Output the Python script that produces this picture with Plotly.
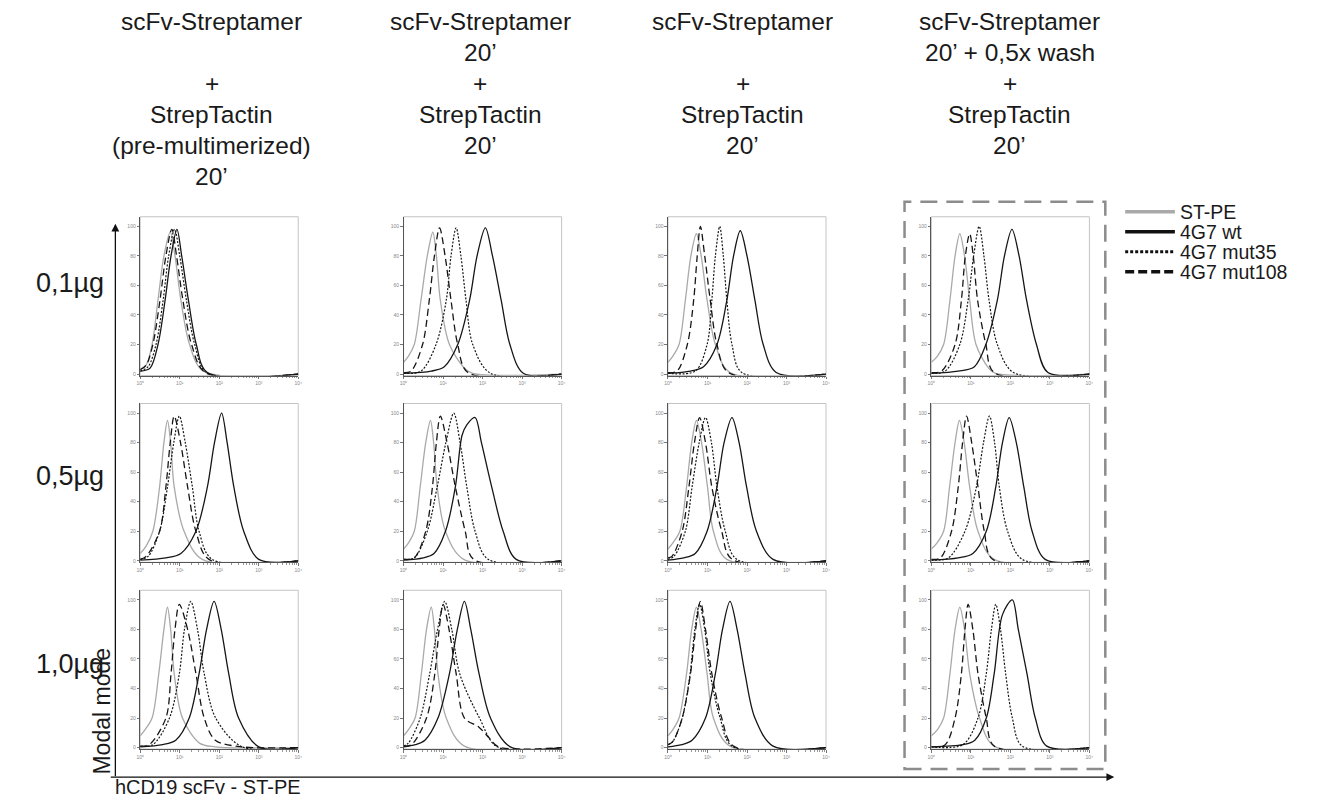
import math
import plotly.graph_objects as go

# page body has an 8px margin; figure drawn in the remaining area
OFF = 8
W, H = 1322 - OFF, 798 - OFF


def px(x):
    return (x - OFF) / W


def py(y):
    return 1 - (y - OFF) / H


# ---------------- data ----------------
SERIES = ["ST-PE", "4G7 wt", "4G7 mut35", "4G7 mut108"]
ROW_LABELS = ["0,1µg", "0,5µg", "1,0µg"]
COL_TITLES = [
    ["scFv-Streptamer", "", "+", "StrepTactin", "(pre-multimerized)", "20’"],
    ["scFv-Streptamer", "20’", "+", "StrepTactin", "20’"],
    ["scFv-Streptamer", "", "+", "StrepTactin", "20’"],
    ["scFv-Streptamer", "20’ + 0,5x wash", "+", "StrepTactin", "20’"],
]
X_TICKS = [0, 1, 2, 3, 4]
X_TICK_TEXT = ["10⁰", "10¹", "10²", "10³", "10⁴"]
Y_TICKS = [0, 20, 40, 60, 80, 100]
X_AXIS_TITLE = "hCD19 scFv - ST-PE"
Y_AXIS_TITLE = "Modal mode"

# Each curve: [log10(fluorescence), % of mode] knots.
# Order: row 0 col 0..3, row 1 col 0..3, row 2 col 0..3
ST_PE = [
    [[0,3],[0.15,6],[0.3,20],[0.45,50],[0.6,80],[0.76,96],[0.88,80],[1.03,50],[1.25,20],[1.6,2],[4,0]],
    [[0,8],[0.12,12],[0.27,20],[0.44,50],[0.6,80],[0.74,96],[0.83,80],[0.93,50],[1.16,20],[1.54,4],[1.75,0.5],[4,0]],
    [[0,8],[0.12,12],[0.28,20],[0.44,50],[0.58,80],[0.72,95],[0.84,80],[0.99,50],[1.2,20],[1.57,1],[4,0]],
    [[0,8],[0.15,12],[0.31,20],[0.47,50],[0.6,80],[0.72,95],[0.84,80],[0.97,50],[1.13,20],[1.45,4],[1.62,0.5],[4,0]],
    [[0,5],[0.15,10],[0.32,20],[0.49,50],[0.6,80],[0.69,95],[0.77,80],[0.86,50],[1.11,20],[1.57,1],[4,0]],
    [[0,8],[0.12,12],[0.27,20],[0.42,50],[0.56,80],[0.68,95],[0.76,80],[0.85,50],[1.06,20],[1.52,1],[4,0]],
    [[0,8],[0.12,12],[0.3,20],[0.47,50],[0.6,80],[0.72,95],[0.85,80],[1.0,50],[1.15,20],[1.49,1],[4,0]],
    [[0,8],[0.14,12],[0.31,20],[0.46,50],[0.6,80],[0.71,95],[0.83,80],[0.97,50],[1.18,20],[1.59,1],[4,0]],
    [[0,8],[0.12,12],[0.3,20],[0.47,50],[0.6,80],[0.69,95],[0.77,80],[0.86,50],[1.07,20],[1.5,3],[1.9,0.5],[4,0]],
    [[0,8],[0.12,12],[0.29,20],[0.45,50],[0.58,80],[0.7,95],[0.78,80],[0.87,50],[1.08,20],[1.54,1],[4,0]],
    [[0,8],[0.12,12],[0.28,20],[0.47,50],[0.6,80],[0.72,95],[0.84,80],[0.99,50],[1.15,20],[1.57,1],[4,0]],
    [[0,8],[0.15,12],[0.31,20],[0.47,50],[0.6,80],[0.72,95],[0.84,80],[0.97,50],[1.22,20],[1.59,1],[4,0]],
]
WT = [
    [[0,2],[0.25,4],[0.45,20],[0.63,50],[0.78,80],[0.93,98],[1.05,80],[1.22,50],[1.42,20],[1.7,1],[4,0]],
    [[0,0.5],[0.7,2],[1.03,5],[1.37,20],[1.67,50],[1.86,80],[2.07,99],[2.25,80],[2.47,50],[2.69,20],[3.03,0.5],[4,0]],
    [[0,0.5],[0.57,2],[0.9,5],[1.24,20],[1.49,50],[1.66,80],[1.83,97],[2.0,80],[2.2,50],[2.41,20],[2.74,1],[4,0]],
    [[0,0.5],[0.68,2],[1.09,5],[1.38,20],[1.67,50],[1.85,80],[2.04,98],[2.22,80],[2.41,50],[2.66,20],[2.95,1],[4,0]],
    [[0,0.5],[0.65,2],[1.03,5],[1.41,20],[1.7,50],[1.88,80],[2.06,100],[2.2,80],[2.37,50],[2.62,20],[3.0,1],[4,0]],
    [[0,0.5],[0.5,2],[0.77,5],[1.06,20],[1.31,50],[1.48,85],[1.6,92],[1.81,97],[1.97,80],[2.23,50],[2.52,20],[2.85,1],[4,0]],
    [[0,0.5],[0.4,2],[0.69,5],[0.99,20],[1.24,50],[1.42,80],[1.62,97],[1.8,80],[1.99,50],[2.24,20],[2.66,1],[4,0]],
    [[0,0.5],[0.68,2],[1.05,5],[1.39,20],[1.63,50],[1.8,80],[1.97,97],[2.15,80],[2.34,50],[2.55,20],[2.88,1],[4,0]],
    [[0,0.5],[0.57,2],[0.9,5],[1.24,20],[1.49,50],[1.68,80],[1.87,99],[2.05,80],[2.24,50],[2.49,20],[3.0,0.5],[4,0]],
    [[0,0.5],[0.3,2],[0.54,5],[0.87,20],[1.16,50],[1.36,80],[1.54,99],[1.7,80],[1.91,50],[2.2,20],[2.7,0.5],[4,0]],
    [[0,0.5],[0.35,2],[0.61,5],[0.95,20],[1.2,50],[1.38,80],[1.57,99],[1.75,80],[1.95,50],[2.2,20],[2.66,1],[4,0]],
    [[0,0.5],[0.8,2],[1.1,5],[1.39,20],[1.59,50],[1.8,90],[2.05,100],[2.2,80],[2.42,50],[2.63,20],[2.92,1],[4,0]],
]
MUT35 = [
    [[0,2],[0.2,5],[0.4,20],[0.58,50],[0.72,80],[0.87,98],[1.0,80],[1.17,50],[1.38,20],[1.68,1],[4,0]],
    [[0,0.5],[0.44,2],[0.82,20],[1.08,50],[1.2,80],[1.33,99],[1.45,80],[1.58,50],[1.75,20],[2.2,0.5],[4,0]],
    [[0,0.5],[0.69,2],[0.99,20],[1.11,50],[1.2,80],[1.31,100],[1.4,80],[1.49,50],[1.62,20],[1.87,1],[4,0]],
    [[0,0.5],[0.35,2],[0.72,20],[0.93,50],[1.07,80],[1.21,100],[1.33,80],[1.46,50],[1.67,20],[2.08,1],[4,0]],
    [[0,1],[0.2,3],[0.49,20],[0.69,50],[0.85,80],[0.99,98],[1.14,80],[1.32,50],[1.49,20],[1.82,1],[4,0]],
    [[0,1],[0.27,2],[0.6,20],[0.85,50],[1.07,80],[1.27,100],[1.43,80],[1.6,50],[1.81,20],[2.14,1],[4,0]],
    [[0,1],[0.15,3],[0.44,20],[0.61,50],[0.79,80],[0.95,97],[1.1,80],[1.24,50],[1.45,20],[1.74,1],[4,0]],
    [[0,0.5],[0.43,2],[0.85,20],[1.14,50],[1.32,80],[1.47,98],[1.6,80],[1.72,50],[1.93,20],[2.3,1],[4,0]],
    [[0,1],[0.32,2],[0.74,20],[0.99,50],[1.12,80],[1.28,99],[1.45,80],[1.62,50],[1.91,20],[2.58,0.5],[4,0]],
    [[0,1],[0.12,3],[0.42,20],[0.66,50],[0.86,80],[1.04,99],[1.22,80],[1.42,50],[1.92,20],[2.37,0.5],[4,0]],
    [[0,2],[0.12,4],[0.36,20],[0.56,50],[0.68,80],[0.8,97],[0.93,80],[1.07,50],[1.32,20],[1.62,1],[4,0]],
    [[0,0.5],[0.8,2],[1.18,20],[1.39,50],[1.52,80],[1.63,97],[1.75,80],[1.88,50],[2.05,20],[2.3,1],[4,0]],
]
MUT108 = [
    [[0,3],[0.15,6],[0.32,20],[0.5,50],[0.65,80],[0.8,98],[0.92,80],[1.08,50],[1.3,20],[1.65,1],[4,0]],
    [[0,1],[0.19,2],[0.48,20],[0.65,50],[0.78,80],[0.91,99],[1.05,80],[1.2,50],[1.37,20],[1.63,1],[4,0]],
    [[0,1],[0.23,2],[0.49,20],[0.65,50],[0.74,80],[0.82,100],[0.93,80],[1.07,50],[1.24,20],[1.53,1],[4,0]],
    [[0,1],[0.26,2],[0.6,20],[0.76,50],[0.86,80],[0.97,95],[1.06,80],[1.17,50],[1.38,20],[1.59,1],[4,0]],
    [[0,1],[0.15,3],[0.49,20],[0.65,50],[0.76,80],[0.86,98],[1.02,80],[1.2,50],[1.41,20],[1.74,1],[4,0]],
    [[0,1],[0.27,2],[0.56,20],[0.73,50],[0.83,80],[0.93,98],[1.1,80],[1.31,50],[1.56,20],[1.77,1],[4,0]],
    [[0,2],[0.1,3],[0.36,20],[0.53,50],[0.67,80],[0.8,97],[0.95,80],[1.11,50],[1.36,20],[1.62,1],[4,0]],
    [[0,1],[0.23,2],[0.51,20],[0.68,50],[0.79,80],[0.89,98],[1.02,80],[1.18,50],[1.34,20],[1.55,1],[4,0]],
    [[0,1],[0.23,2],[0.65,20],[0.78,50],[0.88,80],[0.99,97],[1.2,80],[1.41,50],[1.62,20],[1.9,5],[2.58,0.5],[4,0]],
    [[0,1],[0.2,2],[0.58,20],[0.79,50],[0.9,80],[1.0,97],[1.15,80],[1.33,50],[1.54,20],[1.9,14],[2.15,7],[2.4,0.5],[4,0]],
    [[0,2],[0.12,4],[0.36,20],[0.57,50],[0.7,80],[0.82,99],[0.95,80],[1.11,50],[1.36,20],[1.66,1],[4,0]],
    [[0,0.5],[0.35,2],[0.6,20],[0.76,50],[0.85,80],[0.93,97],[1.05,80],[1.18,50],[1.39,20],[1.59,1],[4,0]],
]
CURVES = {"ST-PE": ST_PE, "4G7 wt": WT, "4G7 mut35": MUT35, "4G7 mut108": MUT108}

# ---------------- styles ----------------
STYLE = {
    "ST-PE": dict(color="#a9a9a9", width=1.3, dash="solid"),
    "4G7 wt": dict(color="#161616", width=1.3, dash="solid"),
    "4G7 mut35": dict(color="#161616", width=1.2, dash="2px,1.6px"),
    "4G7 mut108": dict(color="#161616", width=1.3, dash="7px,4px"),
}
LEG_STYLE = {
    "ST-PE": dict(color="#a9a9a9", width=3.5, dash="solid"),
    "4G7 wt": dict(color="#111111", width=3.5, dash="solid"),
    "4G7 mut35": dict(color="#111111", width=3, dash="3px,2px"),
    "4G7 mut108": dict(color="#111111", width=3.5, dash="9px,4px"),
}
FONT = "Liberation Sans, Arial, sans-serif"
COL_LEFT = [137, 402, 668, 933]
TITLE_CX = [209, 479, 743, 1012]
ROW_TOP = [217, 404, 591]
PW, PH = 159, 159

fig = go.Figure()
layout = dict(
    width=W, height=H, margin=dict(l=0, r=0, t=0, b=0), autosize=False,
    paper_bgcolor="white", plot_bgcolor="white", showlegend=False,
    font=dict(family=FONT, color="#1a1a1a"),
)
shapes = []
annotations = []

minor_vals = [d + math.log10(k) for d in range(4) for k in range(2, 10)]

for i in range(12):
    r, c = divmod(i, 4)
    n = "" if i == 0 else str(i + 1)
    layout["xaxis" + n] = dict(
        domain=[px(COL_LEFT[c]), px(COL_LEFT[c] + PW)], anchor="y" + n, range=[0, 4],
        showgrid=False, zeroline=False,
        showline=True, linecolor="#555", linewidth=1, ticks="outside", ticklen=2.5,
        tickwidth=0.8, tickcolor="#777", tickvals=X_TICKS, ticktext=X_TICK_TEXT,
        tickfont=dict(size=5, color="#888"),
        minor=dict(tickvals=minor_vals, ticks="outside", ticklen=1.5, tickcolor="#999", tickwidth=0.6),
        fixedrange=True,
    )
    layout["yaxis" + n] = dict(
        domain=[py(ROW_TOP[r] + PH), py(ROW_TOP[r])], anchor="x" + n, range=[-1, 106.5],
        showgrid=False, zeroline=False,
        showline=True, linecolor="#555", linewidth=1, ticks="outside", ticklen=2.5,
        tickwidth=0.8, tickcolor="#777", tickvals=Y_TICKS,
        tickfont=dict(size=5, color="#888"), fixedrange=True,
    )
    shapes.append(dict(type="rect", xref="x" + n + " domain", yref="y" + n + " domain",
                       x0=0, x1=1, y0=0, y1=1, line=dict(color="#c4c4c4", width=1), layer="below"))
    for s in SERIES:
        pts = CURVES[s][i]
        st = STYLE[s]
        fig.add_trace(go.Scatter(
            x=[p[0] for p in pts], y=[p[1] for p in pts], mode="lines", name=s,
            line=dict(color=st["color"], width=st["width"], dash=st["dash"], shape="spline", smoothing=0.9),
            xaxis="x" + n, yaxis="y" + n, hoverinfo="skip",
        ))

# column titles
for c, lines in enumerate(COL_TITLES):
    cx = px(TITLE_CX[c])
    for k, txt in enumerate(lines):
        if not txt:
            continue
        annotations.append(dict(text=txt, x=cx, y=py(22 + 31 * k), xref="paper", yref="paper",
                                xanchor="center", yanchor="middle", showarrow=False,
                                font=dict(size=24.5, family=FONT, color="#1a1a1a")))

# row labels
for r, txt in enumerate(ROW_LABELS):
    annotations.append(dict(text=txt, x=px(66), y=py([283, 477, 665][r]), xref="paper", yref="paper",
                            xanchor="center", yanchor="middle", showarrow=False,
                            font=dict(size=27, family=FONT, color="#1a1a1a")))

# big axes with arrows
annotations.append(dict(text="", x=px(112), y=py(224), xref="paper", yref="paper",
                        ax=0, ay=554, showarrow=True, arrowhead=2, arrowsize=1.2, arrowwidth=1.3,
                        arrowcolor="#111"))
annotations.append(dict(text="", x=px(1117), y=py(778), xref="paper", yref="paper",
                        ax=-1005, ay=0, showarrow=True, arrowhead=2, arrowsize=1.2, arrowwidth=1.3,
                        arrowcolor="#111"))
annotations.append(dict(text=Y_AXIS_TITLE, x=px(99), y=py(712), xref="paper", yref="paper",
                        textangle=-90, xanchor="center", yanchor="middle", showarrow=False,
                        font=dict(size=23, family=FONT, color="#1a1a1a")))
annotations.append(dict(text=X_AXIS_TITLE, x=px(110), y=py(788), xref="paper", yref="paper",
                        xanchor="left", yanchor="middle", showarrow=False,
                        font=dict(size=20, family=FONT, color="#1a1a1a")))

# dashed highlight box around the last column
shapes.append(dict(type="rect", xref="paper", yref="paper", x0=px(906), x1=px(1108),
                   y0=py(770), y1=py(202),
                   line=dict(color="#8c8c8c", width=2.5, dash="17px,9px")))

# legend
for k, s in enumerate(SERIES):
    yy = py(212 + 20 * k)
    st = LEG_STYLE[s]
    shapes.append(dict(type="line", xref="paper", yref="paper", x0=px(1128), x1=px(1178), y0=yy, y1=yy,
                       line=dict(color=st["color"], width=st["width"], dash=st["dash"])))
    annotations.append(dict(text=s, x=px(1181), y=yy, xref="paper", yref="paper", xanchor="left",
                            yanchor="middle", showarrow=False,
                            font=dict(size=19.5, family=FONT, color="#1a1a1a")))

layout["shapes"] = shapes
layout["annotations"] = annotations
fig.update_layout(**layout)
fig.write_html("out.html")
